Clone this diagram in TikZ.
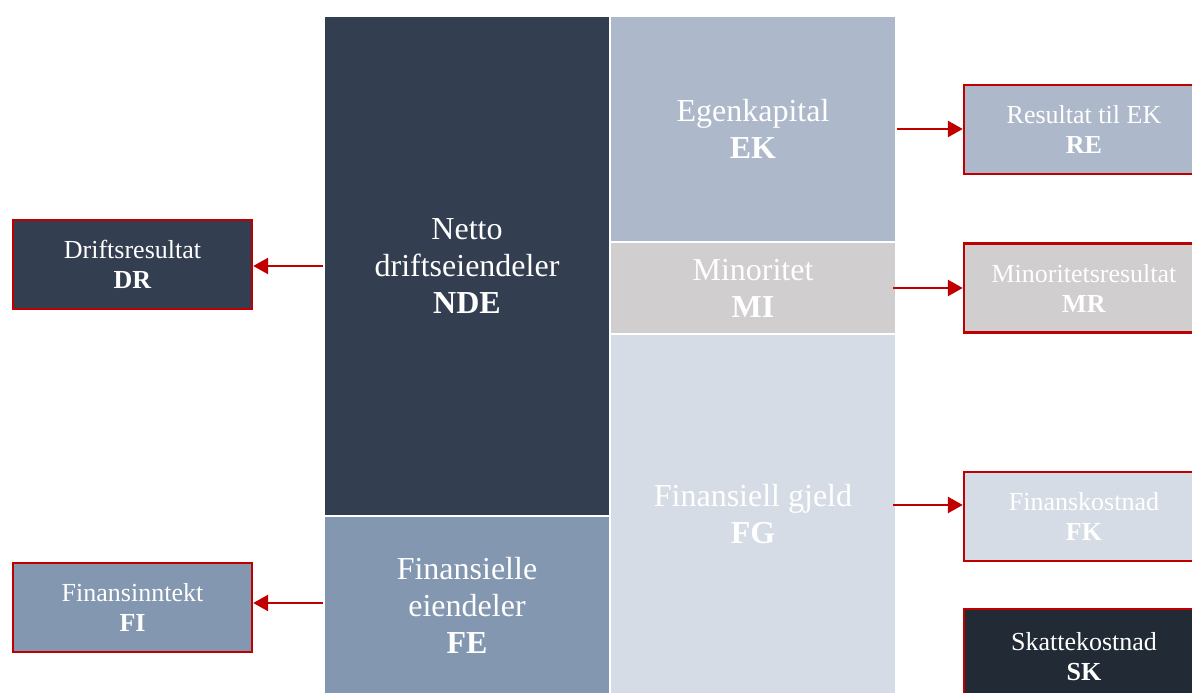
\documentclass[tikz,border=0pt]{standalone}
\usepackage{fontspec}
\setmainfont{Liberation Serif}
\usetikzlibrary{arrows.meta,calc}
\definecolor{cNDE}{HTML}{333F50}
\definecolor{cFE}{HTML}{8497B0}
\definecolor{cEK}{HTML}{ADB9CA}
\definecolor{cMI}{HTML}{D0CECE}
\definecolor{cFG}{HTML}{D6DCE5}
\definecolor{cSK}{HTML}{222A35}
\definecolor{cRed}{HTML}{C00000}
\tikzset{
  block/.style={draw=none,minimum width=284pt,inner sep=0pt,text=white,align=center,font=\fontsize{32}{37}\selectfont},
  rbox/.style={draw=cRed,line width=2.4pt,minimum height=89pt,inner sep=0pt,text=white,align=center,font=\fontsize{26}{30}\selectfont},
  arr/.style={cRed,line width=2.8pt,-{Triangle[length=15pt,width=16pt]}},
}
\begin{document}
\begin{tikzpicture}[x=1pt,y=1pt]
\useasboundingbox (0,0) rectangle (1192,693);
\clip (0,0) rectangle (1192,693);
% blocks (y = 693 - ypx)
\node[block,fill=cNDE,minimum height=498pt] (NDE) at (467,427) {Netto\\driftseiendeler\\\textbf{NDE}};
\node[block,fill=cFE,minimum height=176pt] (FE) at (467,88) {Finansielle\\eiendeler\\\textbf{FE}};
\node[block,fill=cEK,minimum height=224pt] (EK) at (753,564) {Egenkapital\\\textbf{EK}};
\node[block,fill=cMI,minimum height=90pt] (MI) at (753,405) {Minoritet\\\textbf{MI}};
\node[block,fill=cFG,minimum height=358pt] (FG) at (753,179) {Finansiell gjeld\\\textbf{FG}};
% right boxes
\node[rbox,fill=cEK,minimum width=240pt] (RE) at (1084,563.5) {Resultat til EK\\\textbf{RE}};
\node[rbox,fill=cMI,minimum width=240pt] (MR) at (1084,405) {Minoritetsresultat\\\textbf{MR}};
\node[rbox,fill=cFG,minimum width=240pt] (FK) at (1084,176.5) {Finanskostnad\\\textbf{FK}};
\node[rbox,fill=cSK,minimum width=240pt,minimum height=96pt] (SK) at (1084,36) {Skattekostnad\\\textbf{SK}};
% left boxes
\node[rbox,fill=cNDE,minimum width=239pt] (DR) at (132.5,428.5) {Driftsresultat\\\textbf{DR}};
\node[rbox,fill=cFE,minimum width=239pt] (FI) at (132.5,85.5) {Finansinntekt\\\textbf{FI}};
% arrow anchors
\coordinate (fgs) at ($(FG.east)+(0,9)$);
\coordinate (fes) at ($(FE.west)+(0,2)$);
% arrows
\draw[arr,shorten <=2pt] (EK.east) -- (EK.east -| RE.west);
\draw[arr,shorten <=-2pt] (MI.east) -- (MI.east -| MR.west);
\draw[arr,shorten <=-2pt] (fgs) -- (fgs -| FK.west);
\draw[arr,shorten <=2pt] (NDE.west) -- (NDE.west -| DR.east);
\draw[arr,shorten <=2pt] (fes) -- (fes -| FI.east);
\end{tikzpicture}
\end{document}
